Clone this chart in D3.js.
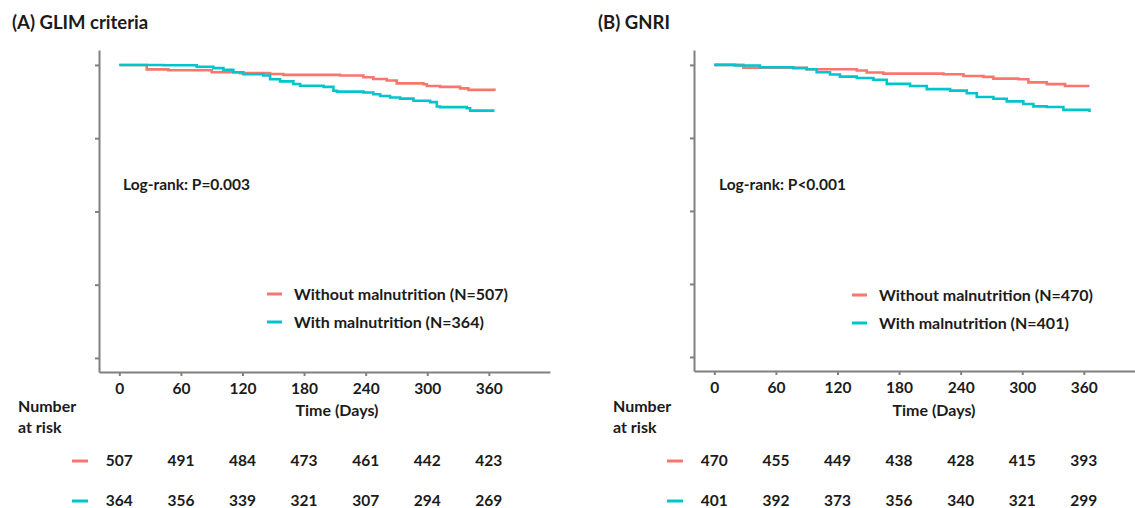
<!DOCTYPE html>
<html lang="en">
<head>
<meta charset="UTF-8">
<script src="https://cdn.jsdelivr.net/npm/d3@7"></script>
<title>Kaplan-Meier curves</title>
<style>
    body { margin: 0; background: #ffffff; }
    text { font-family: Lato, "Open Sans", sans-serif; font-weight: bold; fill: #1b1b1b; }
    .axis path, .axis line { stroke: #808080; stroke-width: 2px; }
</style>
</head>
<body>
<svg id="chart" width="1135" height="508"></svg>
<script>
// shared values
const timeTicks = [0, 60, 120, 180, 240, 300, 360];
const survTicks = [0, 0.25, 0.5, 0.75, 1];
const groupNames = ["Without malnutrition", "With malnutrition"];
const groupColors = ["#F8766D", "#00C5CD"];

// (A) GLIM criteria
const glimN = [507, 364];
const glimPval = "P=0.003";
const glimRiskWithout = [507, 491, 484, 473, 461, 442, 423];
const glimRiskWith = [364, 356, 339, 321, 307, 294, 269];
// [day, survival] step points
const glimWithout = [[0, 1], [26.7, 0.985], [47.8, 0.982], [90, 0.975], [117.6, 0.972], [146.9, 0.969],
    [159.8, 0.966], [215, 0.964], [237.8, 0.958], [247.5, 0.952], [260.6, 0.947], [270.3, 0.937],
    [296.3, 0.934], [299.6, 0.928], [312.5, 0.925], [332, 0.920], [340.1, 0.915], [365.5, 0.912]];
const glimWith = [[0, 1], [42.9, 0.999], [75.4, 0.994], [91.6, 0.989], [101.4, 0.983], [111.1, 0.975],
    [120.8, 0.968], [140.3, 0.964], [146.9, 0.951], [156.6, 0.944], [169.6, 0.935], [176.1, 0.929],
    [198.9, 0.925], [208.6, 0.912], [211.9, 0.909], [237.8, 0.906], [247.5, 0.900], [254.1, 0.894],
    [263.8, 0.889], [273.6, 0.885], [286.6, 0.878], [302.8, 0.873], [309.3, 0.858], [312.5, 0.856],
    [338.5, 0.852], [341.8, 0.844], [365.5, 0.844]];

// (B) GNRI
const gnriN = [470, 401];
const gnriPval = "P<0.001";
const gnriRiskWithout = [470, 455, 449, 438, 428, 415, 393];
const gnriRiskWith = [401, 392, 373, 356, 340, 321, 299];
const gnriWithout = [[0, 1], [28.3, 0.990], [90, 0.985], [138.8, 0.981], [148.5, 0.974], [164.7, 0.970],
    [223.2, 0.968], [242.7, 0.962], [262.2, 0.959], [271.9, 0.953], [296.3, 0.951], [306, 0.940],
    [323.9, 0.934], [341.7, 0.928], [365.5, 0.928]];
const gnriWith = [[0, 1], [20.2, 0.998], [44.5, 0.992], [77, 0.989], [90, 0.985], [99.7, 0.975],
    [112.7, 0.967], [122.4, 0.960], [138.8, 0.955], [155, 0.949], [168, 0.935], [190.7, 0.928],
    [207, 0.917], [229.7, 0.912], [245.9, 0.903], [255.7, 0.890], [271.9, 0.884], [284.9, 0.875],
    [301.1, 0.866], [310.9, 0.858], [323.9, 0.856], [340.1, 0.846], [365.5, 0.839]];

const svg = d3.select("#chart");

function drawPanel(opt) {
    const g = svg.append("g").attr("transform", `translate(${opt.dx},0)`);

    const x = d3.scaleLinear().domain([-19.8, 419.6]).range([99, 550]);
    const y = d3.scaleLinear().domain([-0.048, 1.051]).range([opt.axisY, 50]);

    g.append("text").attr("x", opt.titleX).attr("y", 29)
        .style("font-size", "18.5px").text(opt.title);

    // axes
    g.append("g").attr("class", "axis")
        .attr("transform", `translate(99,0)`)
        .call(d3.axisLeft(y).tickValues(survTicks).tickSize(4).tickSizeOuter(0).tickFormat(""));

    const xa = g.append("g").attr("class", "axis")
        .attr("transform", `translate(0,${opt.axisY})`)
        .call(d3.axisBottom(x).tickValues(timeTicks).tickSize(4).tickSizeOuter(0).tickPadding(7));
    xa.selectAll("text").style("font-size", "15.5px").style("font-family", "Lato, sans-serif").attr("fill", "#1b1b1b");

    g.append("text").attr("x", opt.timeLabelX).attr("y", 416).attr("text-anchor", "middle")
        .style("font-size", "16px").text("Time (Days)");

    // curves
    const line = d3.line().x(d => x(d[0])).y(d => y(d[1])).curve(d3.curveStepAfter);
    [opt.without, opt.with].forEach((c, i) => {
        g.append("path").datum(c)
            .attr("fill", "none")
            .attr("stroke", groupColors[i])
            .attr("stroke-width", 2.6)
            .attr("d", line);
    });

    g.append("text").attr("x", opt.logX).attr("y", 190)
        .style("font-size", "15.5px").text("Log-rank: " + opt.pval);

    // legend
    groupNames.forEach((name, i) => {
        const ly = opt.legendY + i * 28;
        g.append("line").attr("x1", opt.legendX).attr("x2", opt.legendX + 15)
            .attr("y1", ly).attr("y2", ly)
            .attr("stroke", groupColors[i]).attr("stroke-width", 3);
        g.append("text").attr("x", opt.legendX + 27).attr("y", ly + 5.5)
            .style("font-size", "16px").text(`${name} (N=${opt.n[i]})`);
    });

    // number at risk table
    g.append("text").attr("x", 18).attr("y", 412).style("font-size", "16px").text("Number");
    g.append("text").attr("x", 18).attr("y", 433).style("font-size", "16px").text("at risk");
    [opt.riskWithout, opt.riskWith].forEach((row, i) => {
        const ry = 461 + i * 40;
        g.append("line").attr("x1", 72).attr("x2", 88).attr("y1", ry).attr("y2", ry)
            .attr("stroke", groupColors[i]).attr("stroke-width", 3);
        g.selectAll(null).data(row).enter().append("text")
            .attr("x", (d, j) => x(timeTicks[j]))
            .attr("y", ry + 5)
            .attr("text-anchor", "middle")
            .style("font-size", "15.5px")
            .text(d => d);
    });
}

drawPanel({
    dx: 0, title: "(A) GLIM criteria", titleX: 12, axisY: 372, timeLabelX: 337,
    without: glimWithout, with: glimWith, pval: glimPval, logX: 123,
    legendX: 267, legendY: 294, n: glimN,
    riskWithout: glimRiskWithout, riskWith: glimRiskWith
});

drawPanel({
    dx: 595, title: "(B) GNRI", titleX: 3, axisY: 371, timeLabelX: 339,
    without: gnriWithout, with: gnriWith, pval: gnriPval, logX: 124,
    legendX: 257, legendY: 295, n: gnriN,
    riskWithout: gnriRiskWithout, riskWith: gnriRiskWith
});
</script>
</body>
</html>
